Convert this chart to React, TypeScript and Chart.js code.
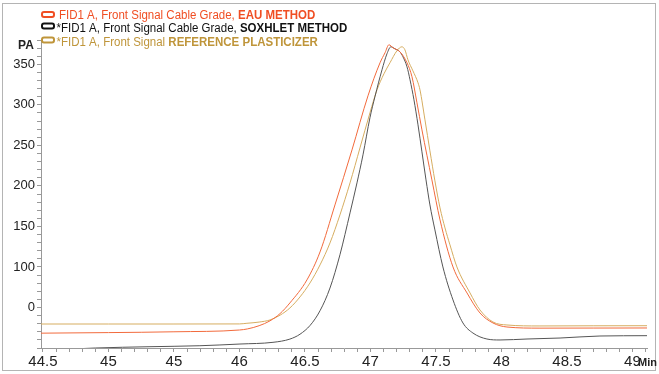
import React, { useEffect, useRef } from 'react';
import { Chart, registerables } from 'chart.js';
Chart.register(...registerables);

// Retention time (min) and signal (pA) for each trace
const eauTime = [44.485, 45.0, 45.5, 46.0, 46.06, 46.15, 46.233, 46.31, 46.385, 46.515, 46.615, 46.729, 46.859, 46.981, 47.073, 47.111, 47.141, 47.172, 47.225, 47.279, 47.317, 47.355, 47.393, 47.469, 47.531, 47.63, 47.737, 47.836, 47.935, 48.042, 48.294, 48.7, 49.111];
const eauSignal = [18.3, 19.0, 20.0, 22.2, 23.5, 27.5, 33.5, 42.5, 55.6, 84.0, 118.5, 176.5, 244.4, 311.1, 351.9, 364.2, 374.1, 370.4, 365.4, 351.9, 334.6, 302.5, 269.1, 207.4, 158.0, 100.0, 67.9, 43.2, 30.9, 25.9, 24.5, 24.6, 24.7];

const soxhletTime = [44.485, 44.9, 45.317, 45.698, 46.004, 46.256, 46.385, 46.462, 46.54, 46.615, 46.691, 46.767, 46.844, 46.897, 46.943, 46.996, 47.034, 47.088, 47.126, 47.156, 47.187, 47.225, 47.248, 47.279, 47.302, 47.332, 47.363, 47.393, 47.424, 47.454, 47.492, 47.553, 47.63, 47.706, 47.782, 47.889, 47.989, 48.195, 48.447, 48.752, 49.111];
const soxhletSignal = [-3.0, 0.0, 1.6, 2.8, 4.9, 7.0, 11.0, 17.0, 28.0, 46.0, 74.0, 115.0, 166.7, 203.7, 238.3, 284.0, 309.9, 343.2, 363.0, 371.6, 369.1, 365.4, 359.3, 346.9, 330.9, 306.2, 275.3, 242.0, 207.4, 176.5, 145.7, 100.0, 59.3, 30.9, 18.5, 11.1, 9.9, 11.1, 12.3, 14.8, 15.2];

const referenceTime = [44.485, 45.0, 45.5, 46.0, 46.057, 46.15, 46.233, 46.31, 46.385, 46.462, 46.538, 46.615, 46.691, 46.767, 46.844, 46.92, 46.996, 47.05, 47.103, 47.149, 47.202, 47.24, 47.263, 47.286, 47.324, 47.363, 47.378, 47.416, 47.454, 47.492, 47.531, 47.569, 47.607, 47.66, 47.76, 47.836, 47.935, 48.042, 48.294, 48.7, 49.111];
const referenceSignal = [29.6, 29.6, 29.6, 29.7, 30.5, 32.0, 34.6, 40.5, 49.4, 63.0, 80.2, 102.5, 129.6, 164.2, 203.7, 246.9, 290.1, 318.5, 338.3, 351.9, 366.7, 371.6, 367.9, 355.6, 342.0, 327.2, 318.5, 281.5, 243.2, 206.2, 172.8, 148.1, 127.2, 100.0, 67.9, 46.9, 32.1, 28.4, 27.2, 27.4, 27.5];

const xTickValues = [44.5, 45, 45.5, 46, 46.5, 47, 47.5, 48, 48.5, 49];
const xTickLabels = ['44.5', '45', '45', '46', '46.5', '47', '47.5', '48', '48.5', '49'];
const yTickValues = [50, 100, 150, 200, 250, 300, 350];
const yTickLabels = ['0', '100', '150', '200', '250', '300', '350'];

const seriesColors = ['#f26a3c', '#555555', '#d6ad60'];
const legendColors = ['#f04e23', '#111111', '#bf953a'];
const legendRegular = ['FID1 A, Front Signal Cable Grade, ', '*FID1 A, Front Signal Cable Grade, ', '*FID1 A, Front Signal '];
const legendBold = ['EAU METHOD', 'SOXHLET METHOD', 'REFERENCE PLASTICIZER'];
const yUnit = 'PA';
const xUnit = 'Min';

const toPoints = (t: number[], v: number[]) => t.map((x, i) => ({ x, y: v[i] }));

const decorPlugin = {
  id: 'decor',
  afterDraw(chart: any) {
    const ctx = chart.ctx as CanvasRenderingContext2D;
    ctx.save();
    ctx.strokeStyle = '#b4b4b4';
    ctx.lineWidth = 1;
    ctx.strokeRect(2.5, 3.5, 653, 367);

    const textBase = [19, 31.5, 45.5];
    const iconCy = [14.5, 26, 40];
    const textX = [59, 56.5, 56.5];
    const squeeze = 0.92;
    for (let i = 0; i < 3; i++) {
      ctx.strokeStyle = legendColors[i];
      ctx.lineWidth = 2;
      ctx.beginPath();
      (ctx as any).roundRect(42, iconCy[i] - 2.5, 12, 5, 2);
      ctx.stroke();
      ctx.fillStyle = legendColors[i];
      ctx.textBaseline = 'alphabetic';
      ctx.textAlign = 'left';
      ctx.font = '12.5px "Liberation Sans", Arial, sans-serif';
      const w = ctx.measureText(legendRegular[i]).width * squeeze;
      ctx.fillText(legendRegular[i], textX[i], textBase[i], w);
      ctx.font = 'bold 12.5px "Liberation Sans", Arial, sans-serif';
      const wb = ctx.measureText(legendBold[i]).width * squeeze;
      ctx.fillText(legendBold[i], textX[i] + w, textBase[i], wb);
    }
    ctx.fillStyle = '#222';
    ctx.font = 'bold 12px "Liberation Sans", Arial, sans-serif';
    ctx.textAlign = 'center';
    ctx.fillText(yUnit, 26, 48.5);
    ctx.font = 'bold 11px "Liberation Sans Narrow", "Liberation Sans", Arial, sans-serif';
    ctx.textAlign = 'left';
    ctx.fillText(xUnit, 638, 366);
    ctx.restore();
  },
};

export default function App() {
  const ref = useRef<HTMLCanvasElement>(null);
  useEffect(() => {
    if (!ref.current) return;
    const mk = (label: string, t: number[], v: number[], c: string) => ({
      label,
      data: toPoints(t, v),
      borderColor: c,
      backgroundColor: c,
      borderWidth: 1,
      pointRadius: 0,
      cubicInterpolationMode: 'monotone' as const,
      fill: false,
    });
    const chart = new Chart(ref.current, {
      type: 'line',
      data: {
        datasets: [
          mk(legendRegular[0] + legendBold[0], eauTime, eauSignal, seriesColors[0]),
          mk(legendRegular[1] + legendBold[1], soxhletTime, soxhletSignal, seriesColors[1]),
          mk(legendRegular[2] + legendBold[2], referenceTime, referenceSignal, seriesColors[2]),
        ],
      },
      options: {
        animation: false,
        responsive: false,
        maintainAspectRatio: false,
        layout: { padding: { top: 40, right: 12, left: 0, bottom: 0 } },
        plugins: { legend: { display: false }, tooltip: { enabled: false } },
        scales: {
          x: {
            type: 'linear',
            min: 44.485,
            max: 49.111,
            afterFit: (s: any) => { s.height = 26; },
            afterBuildTicks: (s: any) => {
              const arr = [];
              for (let i = 0; i <= 46; i++) arr.push({ value: Math.round((44.5 + i * 0.1) * 10) / 10 });
              s.ticks = arr;
            },
            grid: { drawOnChartArea: false, drawTicks: true, tickLength: 4, color: '#999' },
            border: { color: '#999', width: 1 },
            ticks: {
              autoSkip: false,
              maxRotation: 0,
              minRotation: 0,
              padding: 1,
              color: '#222',
              font: { family: '"Liberation Sans Narrow", "Liberation Sans", Arial', size: 15 },
              callback: (v: any) => {
                const i = xTickValues.findIndex((t) => Math.abs(t - Number(v)) < 1e-6);
                return i >= 0 ? xTickLabels[i] : '';
              },
            },
          },
          y: {
            type: 'linear',
            min: 0,
            max: 380,
            afterFit: (s: any) => { s.width = 41; },
            afterBuildTicks: (s: any) => {
              const arr = [];
              for (let v = 0; v <= 380; v += 10) arr.push({ value: v });
              s.ticks = arr;
            },
            grid: { drawOnChartArea: false, drawTicks: true, tickLength: 4, color: '#999' },
            border: { color: '#999', width: 1 },
            ticks: {
              autoSkip: false,
              padding: 2,
              color: '#222',
              font: { family: '"Liberation Sans", Arial', size: 13 },
              callback: (v: any) => {
                const i = yTickValues.indexOf(Number(v));
                return i >= 0 ? yTickLabels[i] : '';
              },
            },
          },
        },
      },
      plugins: [decorPlugin],
    });
    return () => chart.destroy();
  }, []);
  return (
    <div style={{ position: 'fixed', left: 0, top: 0, width: 659, height: 374, background: '#fff' }}>
      <canvas ref={ref} width={659} height={374} style={{ width: 659, height: 374, display: 'block' }} />
    </div>
  );
}
